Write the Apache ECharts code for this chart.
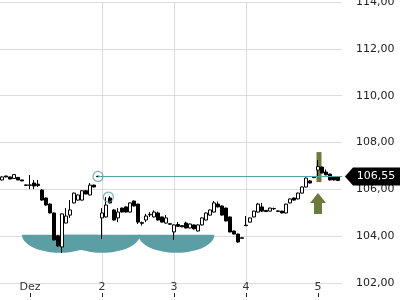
<!DOCTYPE html>
<html><head><meta charset="utf-8">
<script src="https://cdn.jsdelivr.net/npm/echarts@6/dist/echarts.min.js"></script>
<style>html,body{margin:0;padding:0;background:#fff}#c{width:400px;height:300px}</style>
</head><body><div id="c"></div>
<script>
// time slots (18 per trading day); first visible candle sits at slot 11
const firstSlot = 11;
// [open, close, low, high]
const candles = [
 [106.40,106.53,106.38,106.55],[106.57,106.53,106.52,106.58],[106.53,106.44,106.43,106.54],
 [106.46,106.63,106.45,106.64],[106.51,106.40,106.39,106.52],[106.40,106.36,106.35,106.41],
 [106.19,106.17,106.16,106.20],[106.19,106.17,106.01,106.61],[106.27,106.14,106.01,106.40],
 [106.22,106.16,106.10,106.40],[105.97,105.54,105.52,106.01],[105.63,105.33,105.30,105.65],
 [105.37,104.99,104.97,105.40],[104.99,103.84,103.82,105.01],[104.01,103.58,103.54,104.05],
 [103.54,104.95,103.28,104.97],[104.56,104.86,104.55,105.20],[104.90,105.12,104.78,105.54],
 [105.42,105.84,105.40,105.86],[105.54,105.76,105.52,105.78],[105.54,105.94,105.52,105.96],
 [105.94,105.80,105.79,105.96],[105.76,106.18,105.74,106.27],[106.18,106.10,106.08,106.20],
 [106.56,106.54,106.53,106.57],[104.78,104.99,103.88,105.20],[104.82,105.33,104.80,105.67],
 [105.63,105.42,105.40,105.71],[105.12,104.69,104.67,105.14],[104.78,105.03,104.60,105.20],
 [105.20,105.03,105.01,105.22],[105.25,105.03,105.01,105.27],[105.03,105.42,105.01,105.44],
 [105.50,105.29,105.27,105.52],[105.37,104.60,104.52,105.39],[104.58,104.55,104.45,104.62],
 [104.69,104.86,104.60,104.95],[104.93,104.91,104.82,105.03],[104.82,105.03,104.80,105.10],
 [104.99,104.69,104.67,105.05],[104.82,104.60,104.58,104.84],[104.56,104.78,104.54,104.90],
 [104.53,104.51,104.50,104.54],[104.18,104.48,103.84,104.50],[104.50,104.42,104.40,104.60],
 [104.45,104.40,104.38,104.47],[104.56,104.35,104.33,104.62],[104.35,104.52,104.33,104.54],
 [104.48,104.31,104.29,104.50],[104.22,104.48,104.20,104.50],[104.48,104.78,104.46,104.80],
 [104.69,104.99,104.67,105.01],[104.90,105.12,104.88,105.14],[105.03,105.42,105.01,105.50],
 [105.37,105.25,105.23,105.48],[105.29,104.90,104.88,105.31],[105.20,104.65,104.63,105.22],
 [104.82,104.18,104.16,104.84],[104.22,104.09,104.07,104.24],[104.09,103.75,103.72,104.11],
 [103.93,103.91,103.90,103.94],[104.47,104.45,104.43,104.86],[104.60,104.78,104.58,104.80],
 [104.82,105.07,104.80,105.09],[105.03,105.37,105.01,105.42],[105.25,105.07,105.03,105.42],
 [105.10,105.05,105.04,105.11],[105.07,105.20,105.06,105.22],[105.18,105.17,105.12,105.22],
 [105.08,105.06,105.05,105.09],[105.07,104.99,104.98,105.08],[104.99,105.37,104.97,105.39],
 [105.42,105.59,105.40,105.61],[105.63,105.54,105.52,105.65],[105.59,105.84,105.57,105.86],
 [105.84,106.10,105.82,106.12],[106.10,106.48,106.08,106.50],[106.36,106.27,106.25,106.40],
 [106.50,106.55,106.49,106.56],[106.82,106.97,106.55,107.25],[106.95,106.70,106.68,106.97],
 [106.74,106.62,106.60,106.85],[106.65,106.40,106.38,106.67],[106.53,106.40,106.38,106.55],
 [106.53,106.38,106.36,106.55]
];
const dayTicks = [18, 36, 54, 72, 90];
const dayLabels = ['Dez', '2', '3', '4', '5'];
const yMin = 102, yMax = 114, yStep = 2;
const xMin = 0, xMax = 96;
const lastPrice = 106.55;
const priceLineStart = 35;
const circleMarks = [[35, 106.55], [37.6, 105.67]];
const lobes = [[25.5, 104.06], [36, 104.06], [54.6, 104.06]];
const signalBar = [[90.2, 106.31, 107.59, 106.31, 107.59]];
const signalArrow = [[90, 105.40]];

const TEAL = '#5b9fa4', OLIVE = '#6a7b3a';
const fmt = v => v.toFixed(2).replace('.', ',');

const chart = echarts.init(document.getElementById('c'), null, {renderer: 'canvas'});
chart.setOption({
  animation: false,
  textStyle: {fontFamily: 'DejaVu Sans'},
  grid: {left: -42, right: 58, top: 2, bottom: 17, containLabel: false, outerBoundsMode: 'none'},
  xAxis: {
    type: 'value', min: xMin, max: xMax, interval: 18,
    position: 'bottom', offset: 14,
    axisLine: {show: false},
    axisTick: {show: true, inside: true, length: 4, customValues: dayTicks, lineStyle: {color: '#222'}},
    axisLabel: {inside: true, margin: 4, fontSize: 11, color: '#333', fontFamily: 'DejaVu Sans',
      customValues: dayTicks,
      formatter: v => { const i = dayTicks.indexOf(v); return i >= 0 ? dayLabels[i] : ''; }},
    splitLine: {show: true, showMinLine: false, showMaxLine: false, lineStyle: {color: '#dcdcdc', width: 1}}
  },
  yAxis: {
    type: 'value', position: 'right', min: yMin, max: yMax, interval: yStep,
    axisLine: {show: false},
    axisTick: {show: true, length: 5, lineStyle: {color: '#111'}},
    axisLabel: {margin: 14, fontSize: 11, color: '#222', fontFamily: 'DejaVu Sans', formatter: fmt},
    splitLine: {show: true, lineStyle: {color: '#dcdcdc', width: 1}}
  },
  series: [
    {
      type: 'scatter', z: 1, silent: true,
      symbol: 'path://M0,0 C0,27.6 22.4,50 50,50 C77.6,50 100,27.6 100,0 Z',
      symbolSize: [76, 18], symbolOffset: [0, '50%'],
      itemStyle: {color: TEAL, opacity: 1},
      data: lobes
    },
    {
      type: 'candlestick', z: 2, silent: true, barWidth: 6,
      itemStyle: {color: OLIVE, color0: OLIVE, borderColor: OLIVE, borderColor0: OLIVE, borderWidth: 0},
      data: signalBar
    },
    {
      type: 'candlestick', z: 3, silent: true, barWidth: 3,
      itemStyle: {color: '#fff', color0: '#000', borderColor: '#000', borderColor0: '#000', borderWidth: 1},
      data: candles.map((c, i) => [firstSlot + i, c[0], c[1], c[2], c[3]])
    },
    {
      type: 'scatter', z: 4, silent: true, clip: false,
      symbol: 'circle', symbolSize: 10,
      itemStyle: {color: 'rgba(0,0,0,0)', borderColor: TEAL, borderWidth: 1.2},
      data: circleMarks,
      markLine: {
        silent: true, symbol: 'none', label: {show: false},
        lineStyle: {color: TEAL, width: 1, type: 'solid'},
        emphasis: {disabled: true},
        data: [[{coord: [priceLineStart, lastPrice]}, {coord: [xMax, lastPrice]}]]
      },
      markPoint: {
        silent: true,
        symbol: 'path://M0,9 L8,0 L56,0 L56,18 L8,18 Z',
        symbolSize: [56, 18], symbolOffset: [31, 0],
        itemStyle: {color: '#000'},
        label: {show: true, position: 'inside', offset: [3, 0], color: '#fff', fontSize: 11,
          fontFamily: 'DejaVu Sans', formatter: () => fmt(lastPrice)},
        data: [{coord: [xMax - 0.01, lastPrice], value: lastPrice}]
      }
    },
    {
      type: 'scatter', z: 5, silent: true,
      symbol: 'path://M8,0 L16,10 L12,10 L12,21 L4,21 L4,10 L0,10 Z',
      symbolSize: [16, 21],
      itemStyle: {color: OLIVE, opacity: 1},
      data: signalArrow
    }
  ]
});
</script></body></html>
